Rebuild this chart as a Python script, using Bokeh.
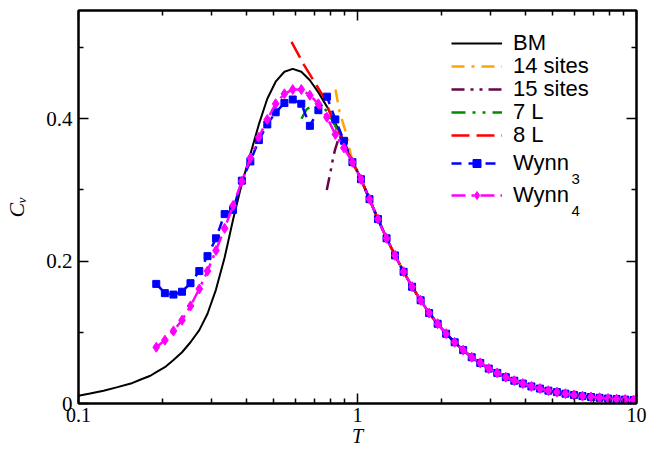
from bokeh.plotting import figure
from bokeh.models import (Range1d, LogAxis, LinearAxis, FixedTicker, Legend,
                          LegendItem, Label)
from bokeh.embed import file_html
from bokeh.resources import INLINE

# ---------------- data ----------------
wynn_T = [0.190, 0.204, 0.219, 0.235, 0.252, 0.271, 0.290, 0.311, 0.334, 0.358,
          0.385, 0.413, 0.443, 0.475, 0.509, 0.547, 0.586, 0.629, 0.675, 0.724,
          0.777, 0.833, 0.894, 0.959, 1.029, 1.104, 1.184, 1.271, 1.363, 1.463,
          1.569, 1.684, 1.806, 1.938, 2.078, 2.230, 2.392, 2.567, 2.754, 2.954,
          3.169, 3.400, 3.648, 3.914, 4.200, 4.505, 4.833, 5.185, 5.563, 5.968,
          6.403, 6.869, 7.370, 7.907, 8.482, 9.100, 9.761]

wynn3_low = [0.168, 0.155, 0.153, 0.157, 0.169, 0.186, 0.207, 0.232, 0.266, 0.272,
             0.313, 0.340, 0.370, 0.392, 0.409, 0.422, 0.427, 0.421, 0.390, 0.412,
             0.431, 0.399, 0.369]
wynn4_low = [0.079, 0.089, 0.102, 0.117, 0.137, 0.161, 0.186, 0.215, 0.246, 0.278,
             0.312, 0.345, 0.374, 0.399, 0.421, 0.435, 0.441, 0.441, 0.433, 0.421,
             0.402, 0.378, 0.359]
# common high-T tail (T = wynn_T[23:])
tail_Cv = [0.339, 0.315, 0.287, 0.259, 0.232, 0.208, 0.185, 0.164, 0.145, 0.127,
           0.112, 0.098, 0.086, 0.075, 0.065, 0.057, 0.049, 0.043, 0.037, 0.032,
           0.028, 0.024, 0.021, 0.018, 0.016, 0.0138, 0.0120, 0.0104, 0.0091, 0.0080,
           0.0070, 0.0062, 0.0055, 0.0049]

bm_T = [0.100, 0.110, 0.123, 0.138, 0.154, 0.168, 0.181, 0.190, 0.204, 0.219,
        0.235, 0.252, 0.271, 0.290, 0.311, 0.334, 0.358, 0.385, 0.413, 0.443,
        0.475, 0.509, 0.547, 0.586, 0.629, 0.675, 0.724, 0.777, 0.833, 0.894,
        0.959, 1.029, 1.104, 1.184, 1.271, 1.363, 1.463, 1.569, 1.684, 1.806,
        1.938, 2.078, 2.230, 2.392, 2.567, 2.754, 2.954, 3.169, 3.400, 3.648,
        3.914, 4.200, 4.505, 4.833, 5.185, 5.563, 5.968, 6.403, 6.869, 7.370,
        7.907, 8.482, 9.100, 9.761, 10.0]
bm_Cv = [0.011, 0.014, 0.018, 0.023, 0.028, 0.034, 0.039, 0.044, 0.051, 0.061,
         0.072, 0.086, 0.103, 0.126, 0.160, 0.205, 0.258, 0.309, 0.350, 0.392,
         0.428, 0.452, 0.466, 0.470, 0.466, 0.454, 0.437, 0.417, 0.394, 0.368,
         0.341, 0.316, 0.288, 0.259, 0.232, 0.208, 0.185, 0.164, 0.145, 0.127,
         0.112, 0.098, 0.086, 0.075, 0.065, 0.057, 0.049, 0.043, 0.037, 0.032,
         0.028, 0.024, 0.021, 0.018, 0.016, 0.0138, 0.0120, 0.0104, 0.0091, 0.0080,
         0.0070, 0.0062, 0.0055, 0.0049, 0.0047]

s14_T_low = [0.834, 0.862, 0.910]
s14_Cv_low = [0.441, 0.410, 0.380]
s15_T_low = [0.776, 0.800, 0.815, 0.830, 0.862]
s15_Cv_low = [0.300, 0.325, 0.342, 0.356, 0.376]
l7_T_low = [0.630, 0.656, 0.680, 0.708, 0.740, 0.780, 0.820, 0.862]
l7_Cv_low = [0.400, 0.413, 0.417, 0.419, 0.418, 0.410, 0.395, 0.378]
l8_T_low = [0.580, 0.642, 0.700, 0.755, 0.811, 0.862]
l8_Cv_low = [0.508, 0.476, 0.452, 0.431, 0.401, 0.380]

labels = ["BM", "14 sites", "15 sites", "7 L", "8 L", "Wynn", "Wynn"]
subscripts = ["3", "4"]
x_title = "T"
y_title = "C\u1d65"
x_ticks = [0.1, 1, 10]
x_minor = [0.2, 0.3, 0.4, 0.5, 0.6, 0.7, 0.8, 0.9, 2, 3, 4, 5, 6, 7, 8, 9]
y_ticks = [0, 0.2, 0.4]
y_minor = [0.1, 0.3, 0.5]

tail_T = wynn_T[23:]

# ---------------- figure ----------------
p = figure(width=664, height=451, x_axis_type="log",
           x_range=Range1d(0.1, 10), y_range=Range1d(0, 0.552),
           output_backend="svg", toolbar_location=None,
           min_border_left=78, min_border_right=28,
           min_border_top=10, min_border_bottom=48)
p.xgrid.visible = False
p.ygrid.visible = False
p.outline_line_color = "black"
p.outline_line_width = 2
p.background_fill_color = "white"
p.border_fill_color = "white"

SERIF = "Liberation Serif"
SANS = "Liberation Sans"

def style_axis(ax, ticks, minor, overrides, show_labels=True):
    ax.ticker = FixedTicker(ticks=ticks, minor_ticks=minor)
    ax.axis_line_color = "black"
    ax.axis_line_width = 2
    ax.major_tick_line_color = "black"
    ax.minor_tick_line_color = "black"
    ax.major_tick_line_width = 1.5
    ax.minor_tick_line_width = 1.5
    ax.major_tick_in = 10
    ax.major_tick_out = 0
    ax.minor_tick_in = 5
    ax.minor_tick_out = 0
    ax.major_label_overrides = overrides
    ax.major_label_text_font = SERIF
    ax.major_label_text_color = "black"
    if show_labels:
        ax.major_label_text_font_size = "20px"
        ax.major_label_standoff = 4
    else:
        ax.major_label_text_font_size = "1px"
        ax.major_label_standoff = 0

x_over = {0.1: "0.1", 1: "1", 10: "10"}
y_over = {0: "0", 0.2: "0.2", 0.4: "0.4"}
x_blank = {0.1: "", 1: "", 10: ""}
y_blank = {0: "", 0.2: "", 0.4: ""}
style_axis(p.xaxis[0], x_ticks, x_minor, x_over)
style_axis(p.yaxis[0], y_ticks, y_minor, y_over)
p.yaxis[0].major_label_text_font_size = "21px"
p.yaxis[0].major_label_standoff = 6

for ax, title, size, standoff in ((p.xaxis[0], x_title, "20px", 0),
                                  (p.yaxis[0], y_title, "22px", 14)):
    ax.axis_label = title
    ax.axis_label_text_font = SERIF
    ax.axis_label_text_font_style = "italic"
    ax.axis_label_text_font_size = size
    ax.axis_label_text_color = "black"
    ax.axis_label_standoff = standoff

top_ax = LogAxis()
style_axis(top_ax, x_ticks, x_minor, x_blank, show_labels=False)
p.add_layout(top_ax, "above")
right_ax = LinearAxis()
style_axis(right_ax, y_ticks, y_minor, y_blank, show_labels=False)
p.add_layout(right_ax, "right")

# ---------------- series ----------------
r_bm = p.line(bm_T, bm_Cv, line_color="black", line_width=2)
r14 = p.line(s14_T_low + tail_T, s14_Cv_low + tail_Cv, line_color="#ffa500",
             line_width=2.5, line_dash="13 7 3 7")
r15 = p.line(s15_T_low + tail_T, s15_Cv_low + tail_Cv, line_color="#670748",
             line_width=2.5, line_dash="13 6 3 6 3 6")
r7 = p.line(l7_T_low + tail_T, l7_Cv_low + tail_Cv, line_color="#008b00",
            line_width=2.5, line_dash="14 7 3 7 3 7")
r8 = p.line(l8_T_low + tail_T, l8_Cv_low + tail_Cv, line_color="#ff0000",
            line_width=2.5, line_dash="18 7")
w3 = wynn3_low + tail_Cv
w4 = wynn4_low + tail_Cv
r3l = p.line(wynn_T, w3, line_color="#0000ff", line_width=2.5, line_dash="10 7")
r3m = p.scatter(wynn_T, w3, marker="square", size=7, fill_color="#0000ff",
                line_color="#0000ff")
r4l = p.line(wynn_T, w4, line_color="#ff00ff", line_width=2.5, line_dash="14 6 3 6")
r4m = p.scatter(wynn_T, w4, marker="diamond", size=10, fill_color="#ff00ff",
                line_color="#ff00ff")

# ---------------- legend (one row each, for the uneven spacing) ----------------
row_renderers = [[r_bm], [r14], [r15], [r7], [r8], [r3l, r3m], [r4l, r4m]]
row_bottoms = [347, 324, 301, 278, 255, 227, 195]
for lab, rends, yb in zip(labels, row_renderers, row_bottoms):
    leg = Legend(items=[LegendItem(label=lab, renderers=rends)],
                 location=(373, yb), orientation="vertical",
                 padding=0, margin=0, spacing=0,
                 glyph_width=51, glyph_height=20, label_height=20,
                 label_standoff=11, label_text_font=SANS,
                 label_text_font_size="22px", label_text_color="black",
                 border_line_alpha=0, background_fill_alpha=0)
    p.add_layout(leg)

for sub, yb in zip(subscripts, [225, 193]):
    p.add_layout(Label(x=493, y=yb, x_units="screen", y_units="screen", text=sub,
                       text_font=SANS, text_font_size="15px", text_color="black",
                       text_baseline="alphabetic", text_align="left"))

open("out.html", "w").write(file_html(p, INLINE))
